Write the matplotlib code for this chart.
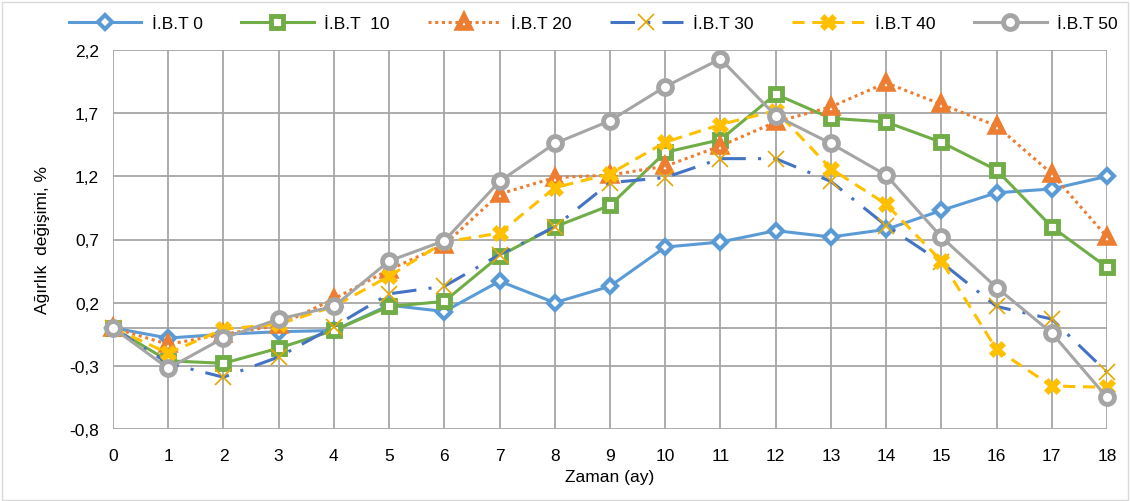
import matplotlib.pyplot as plt
import numpy as np
from matplotlib.patches import Rectangle
from matplotlib.ticker import FuncFormatter

plt.rcParams["font.family"] = ["Liberation Sans", "DejaVu Sans"]

months = list(range(19))
labels = ["İ.B.T 0", "İ.B.T  10", "İ.B.T 20", "İ.B.T 30", "İ.B.T 40", "İ.B.T 50"]

ibt_0 = [0.0, -0.08, -0.05, -0.03, -0.02, 0.18, 0.13, 0.37, 0.20, 0.33,
         0.64, 0.68, 0.77, 0.72, 0.78, 0.93, 1.07, 1.10, 1.20]
ibt_10 = [0.0, -0.26, -0.28, -0.16, -0.02, 0.17, 0.21, 0.57, 0.80, 0.97,
          1.39, 1.49, 1.85, 1.66, 1.63, 1.47, 1.25, 0.80, 0.48]
ibt_20 = [0.0, -0.13, -0.05, 0.02, 0.23, 0.46, 0.66, 1.06, 1.19, 1.21,
          1.28, 1.44, 1.63, 1.75, 1.94, 1.77, 1.60, 1.22, 0.72]
ibt_30 = [0.0, -0.28, -0.39, -0.23, 0.01, 0.27, 0.33, 0.58, 0.80, 1.15,
          1.19, 1.34, 1.34, 1.16, 0.81, 0.52, 0.17, 0.07, -0.35]
ibt_40 = [0.0, -0.20, -0.01, 0.03, 0.17, 0.41, 0.68, 0.75, 1.11, 1.22,
          1.47, 1.61, 1.72, 1.26, 0.98, 0.53, -0.17, -0.46, -0.47]
ibt_50 = [0.0, -0.32, -0.08, 0.07, 0.17, 0.53, 0.69, 1.16, 1.46, 1.64,
          1.91, 2.13, 1.68, 1.46, 1.21, 0.72, 0.32, -0.04, -0.55]

series = [ibt_0, ibt_10, ibt_20, ibt_30, ibt_40, ibt_50]
styles = [
    dict(color="#5B9BD5", ls="-", marker="D", ms=7, mfc="white", mec="#5B9BD5", mew=3),
    dict(color="#70AD47", ls="-", marker="s", ms=9, mfc="white", mec="#70AD47", mew=3.5),
    dict(color="#ED7D31", ls=(0, (1, 1.2)), marker="^", ms=9, mfc="white", mec="#ED7D31", mew=4),
    dict(color="#4472C4", ls=(0, (8, 4, 1, 4)), marker="x", ms=11, mfc="#E5A800", mec="#E5A800", mew=1.2),
    dict(color="#FFC000", ls=(0, (4, 2.5)), marker="X", ms=12, mfc="#FFC000", mec="#FFC000", mew=0.5),
    dict(color="#A5A5A5", ls="-", marker="o", ms=10, mfc="white", mec="#A5A5A5", mew=3.5),
]

fig = plt.figure(figsize=(11.3, 5.02), dpi=100)
ax = fig.add_axes([113 / 1130, 1 - 430 / 502, (1107 - 113) / 1130, (430 - 51) / 502])

grid_color = "#A6A6A6"
for i, (vals, st) in enumerate(zip(series, styles)):
    ax.plot(months, vals, lw=2.2, label=labels[i], zorder=3 + i, clip_on=False, **st)

ax.set_xlim(0, 18)
ax.set_ylim(-0.8, 2.2)
ax.set_xticks(months)
ax.set_yticks(np.arange(-0.8, 2.21, 0.5))
ax.yaxis.set_major_formatter(FuncFormatter(lambda v, p: f"{v:.1f}".replace(".", ",").replace("-0,0", "0")))
ax.grid(True, color=grid_color, lw=1.3)
ax.axhline(0, color=grid_color, lw=1.3, zorder=1)
for s in ax.spines.values():
    s.set_visible(False)
ax.tick_params(length=0, labelsize=12.5, pad=10)
ax.tick_params(axis="x", pad=14)
ax.set_xlabel("Zaman (ay)", fontsize=12.5, labelpad=4)
ax.set_ylabel("Ağırlık  değişimi, %", fontsize=12.5, labelpad=14)

fig.legend(loc="center", bbox_to_anchor=(0.525, 0.951), ncol=6, frameon=False,
           fontsize=12.5, handlelength=4.2, columnspacing=2.2, handletextpad=0.6)

fig.add_artist(Rectangle((0.002, 0.002), 0.996, 0.992, transform=fig.transFigure,
                         fill=False, ec="#D9D9D9", lw=1))

fig.savefig("out.png", dpi=100)
